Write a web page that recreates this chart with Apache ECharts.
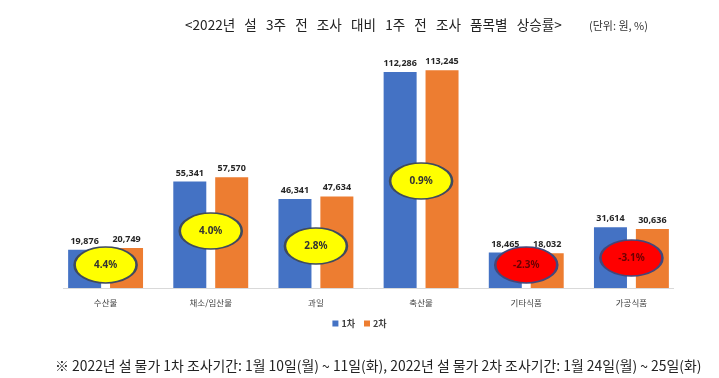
<!DOCTYPE html>
<html><head><meta charset="utf-8">
<script src="https://cdn.jsdelivr.net/npm/echarts@6/dist/echarts.min.js"></script>
<style>html,body{margin:0;padding:0;background:#fff}#c{width:719px;height:378px}</style>
</head><body><div id="c"></div>
<script>
const categories = ['수산물', '채소/임산물', '과일', '축산물', '기타식품', '가공식품'];
const first = [19876, 55341, 46341, 112286, 18465, 31614];
const second = [20749, 57570, 47634, 113245, 18032, 30636];
const rates = [4.4, 4.0, 2.8, 0.9, -2.3, -3.1];
const bubbleY = [12000, 29600, 21800, 55600, 12000, 15600];
const seriesNames = ['1차', '2차'];
const titleText = '<2022년 설 3주 전 조사 대비 1주 전 조사 품목별 상승률>';
const unitText = '(단위: 원, %)';
const noteText = '※ 2022년 설 물가 1차 조사기간: 1월 10일(월) ~ 11일(화), 2022년 설 물가 2차 조사기간: 1월 24일(월) ~ 25일(화)';

const FONT = '"Noto Sans CJK KR", "Noto Sans", sans-serif';
const NUMFONT = '"Noto Sans", "Noto Sans CJK KR", sans-serif';
const chart = echarts.init(document.getElementById('c'));
const valLabel = {show: true, position: 'top', distance: 4, fontSize: 9, fontWeight: 'bold', color: '#262626', fontFamily: NUMFONT,
  formatter: p => p.value.toLocaleString('en-US')};
chart.setOption({
  animation: false,
  textStyle: {fontFamily: FONT},
  title: [
    {text: titleText.replace(/ /g, '   '), left: 180, top: 13, textStyle: {fontSize: 13.6, fontWeight: 'normal', color: '#222', fontFamily: FONT}},
    {text: unitText, left: 584, top: 15, textStyle: {fontSize: 11, fontWeight: 'normal', color: '#333', fontFamily: FONT}},
    {text: noteText, left: 50, top: 354, textStyle: {fontSize: 13.9, fontWeight: 'normal', color: '#222', fontFamily: FONT}}
  ],
  legend: {data: seriesNames, top: 314, left: 'center', itemWidth: 6, itemHeight: 6, itemGap: 9, icon: 'rect',
    textStyle: {fontSize: 9, fontWeight: 'bold', color: '#404040', fontFamily: FONT, padding: [0, 0, 0, -2]}},
  grid: {left: 53, right: 35, top: 38, bottom: 90},
  xAxis: {type: 'category', data: categories,
    axisLine: {show: false}, axisTick: {show: false},
    axisLabel: {fontSize: 8.5, color: '#404040', margin: 11, fontFamily: FONT}},
  yAxis: {type: 'value', min: 0, max: 130000, show: false, splitLine: {show: false}},
  series: [
    {name: seriesNames[0], type: 'bar', data: first, barWidth: 33, barGap: '27%', itemStyle: {color: '#4472C4'}, label: valLabel},
    {name: seriesNames[1], type: 'bar', data: second, barWidth: 33, itemStyle: {color: '#ED7D31'}, label: valLabel},
    {type: 'scatter', symbol: 'circle', symbolSize: [62, 36], z: 10,
      data: rates.map((r, i) => ({
        value: [i, bubbleY[i]],
        itemStyle: r >= 0 ? {color: '#FFFF00', borderColor: '#3E4A5E', borderWidth: 2, opacity: 1}
                          : {color: '#FF0000', borderColor: '#43477A', borderWidth: 2, opacity: 1},
        label: {show: true, position: 'inside', formatter: r.toFixed(1) + '%', fontSize: 10, fontWeight: 'bold',
          color: r >= 0 ? '#333333' : '#6B0000', fontFamily: NUMFONT}
      })),
      emphasis: {disabled: true}}
  ]
});
const p0 = chart.convertToPixel({xAxisIndex: 0, yAxisIndex: 0}, [0, 0]);
const p5 = chart.convertToPixel({xAxisIndex: 0, yAxisIndex: 0}, [categories.length - 1, 0]);
const half = 105.2 / 2 - 10;
chart.setOption({graphic: [{type: 'line', shape: {x1: p0[0] - half, y1: p0[1] + 0.5, x2: p5[0] + half, y2: p5[1] + 0.5},
  style: {stroke: '#D9D9D9', lineWidth: 1}, z: 0}]});
</script></body></html>
